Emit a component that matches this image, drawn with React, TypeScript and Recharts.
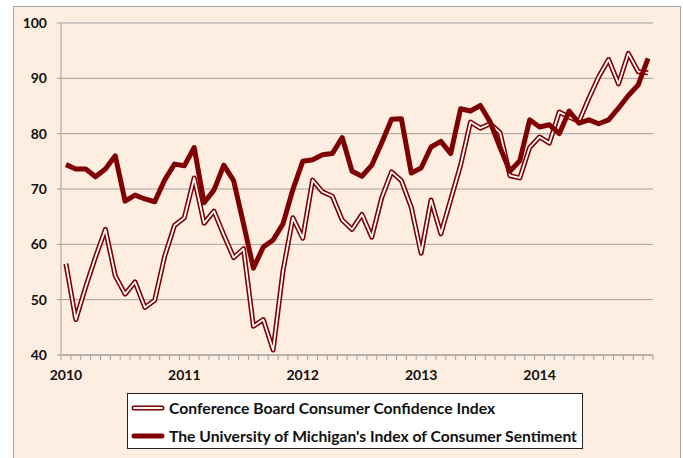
import { CartesianGrid, Line, LineChart, XAxis, YAxis } from "recharts"

const years = ["2010", "2011", "2012", "2013", "2014"]

const conference = [
  56.5, 46.4, 52.3, 57.7, 62.7, 54.3, 51.0, 53.2, 48.6, 49.9, 57.8, 63.4,
  64.8, 72.0, 63.8, 66.0, 61.7, 57.6, 59.2, 45.2, 46.4, 40.9, 55.2, 64.8,
  61.1, 71.6, 69.5, 68.7, 64.4, 62.7, 65.4, 61.3, 68.4, 73.1, 71.5, 66.7,
  58.4, 68.0, 61.9, 68.1, 74.3, 82.1, 81.0, 81.8, 80.2, 72.4, 72.0, 77.5,
  79.4, 78.3, 83.9, 83.0, 82.2, 86.4, 90.3, 93.4, 89.0, 94.5, 91.2, 91.0,
]

const michigan = [
  74.4, 73.6, 73.6, 72.2, 73.6, 76.0, 67.8, 68.9, 68.2, 67.7, 71.6, 74.5,
  74.2, 77.5, 67.5, 69.8, 74.3, 71.5, 63.7, 55.7, 59.5, 60.8, 63.7, 69.9,
  75.0, 75.3, 76.2, 76.4, 79.3, 73.2, 72.3, 74.3, 78.3, 82.6, 82.7, 72.9,
  73.8, 77.6, 78.6, 76.4, 84.5, 84.1, 85.1, 82.1, 77.5, 73.2, 75.1, 82.5,
  81.2, 81.6, 80.0, 84.1, 81.9, 82.5, 81.8, 82.5, 84.6, 86.9, 88.8, 93.6,
]

const yTicks = [40, 50, 60, 70, 80, 90, 100]

const RED = "#7f0000"
const GRID = "#a0a0a0"
const BG = "#fdeee1"
const FONT = "Lato, 'Open Sans', sans-serif"

// month slots are 1 wide, point sits in the middle of its slot
const data = conference.map((c, i) => ({ x: i + 0.5, conference: c, michigan: michigan[i] }))
const monthEdges = Array.from({ length: conference.length + 1 }, (_, i) => i)
const yearCenters = years.map((_, i) => i * 12 + 0.5)
const xTicks = [...monthEdges, ...yearCenters].sort((a, b) => a - b)

function XTick(props: any) {
  const { x, y, payload } = props
  const v = payload.value
  if (Number.isInteger(v)) {
    return <line x1={x} x2={x} y1={y} y2={y + 5} stroke={GRID} />
  }
  const label = years[Math.round((v - 0.5) / 12)]
  return (
    <text x={x} y={y + 25} textAnchor="middle" fontFamily={FONT} fontWeight={700} fontSize={14} fill="#111">
      {label}
    </text>
  )
}

function LegendIcon({ double }: { double: boolean }) {
  return (
    <svg width={34} height={8} style={{ display: "block" }}>
      <line x1={3} x2={31} y1={4} y2={4} stroke={RED} strokeWidth={5} strokeLinecap="round" />
      {double && <line x1={3} x2={31} y1={4} y2={4} stroke="#fff" strokeWidth={2} strokeLinecap="round" />}
    </svg>
  )
}

export default function App() {
  return (
    <div style={{ position: "absolute", left: 0, top: 0, width: 683, height: 458, background: "#fff", overflow: "hidden" }}>
      <div
        style={{
          position: "absolute",
          left: 13,
          top: 6,
          width: 666,
          height: 470,
          background: BG,
          border: "1px solid #a6a6a6",
        }}
      />
      <div style={{ position: "absolute", left: 0, top: 0 }}>
        <LineChart width={683} height={458} data={data} margin={{ top: 23, right: 30, left: 0, bottom: 0 }}>
          <CartesianGrid stroke={GRID} vertical={false} />
          <XAxis
            type="number"
            dataKey="x"
            domain={[0, 60]}
            ticks={xTicks}
            interval={0}
            tickSize={0}
            tickMargin={0}
            tickLine={false}
            tick={<XTick />}
            axisLine={{ stroke: GRID }}
            height={103}
          />
          <YAxis
            domain={[40, 100]}
            ticks={yTicks}
            interval={0}
            width={61}
            tickSize={4}
            tickMargin={10}
            axisLine={{ stroke: GRID }}
            tickLine={{ stroke: GRID }}
            tick={{ fontFamily: FONT, fontWeight: 700, fontSize: 14, fill: "#111" }}
          />
          <Line
            dataKey="conference"
            stroke={RED}
            strokeWidth={5}
            strokeLinejoin="round"
            dot={false}
            activeDot={false}
            isAnimationActive={false}
          />
          <Line
            dataKey="conference"
            stroke="#fff"
            strokeWidth={1.8}
            strokeLinejoin="round"
            dot={false}
            activeDot={false}
            isAnimationActive={false}
          />
          <Line
            dataKey="michigan"
            stroke={RED}
            strokeWidth={5}
            strokeLinejoin="round"
            dot={false}
            activeDot={false}
            isAnimationActive={false}
          />
        </LineChart>
      </div>
      <div
        style={{
          position: "absolute",
          left: 127,
          top: 393,
          width: 454,
          height: 54,
          background: "#fff",
          border: "1px solid #222",
          fontFamily: FONT,
          fontWeight: 700,
          fontSize: 15.7,
          color: "#111",
        }}
      >
        {[
          { name: "Conference Board Consumer Confidence Index", double: true },
          { name: "The University of Michigan's Index of Consumer Sentiment", double: false },
        ].map((it, i) => (
          <div
            key={it.name}
            style={{ position: "absolute", left: 3, top: 5 + i * 28, height: 18, display: "flex", alignItems: "center", whiteSpace: "nowrap" }}
          >
            <LegendIcon double={it.double} />
            <span style={{ marginLeft: 4 }}>{it.name}</span>
          </div>
        ))}
      </div>
    </div>
  )
}
